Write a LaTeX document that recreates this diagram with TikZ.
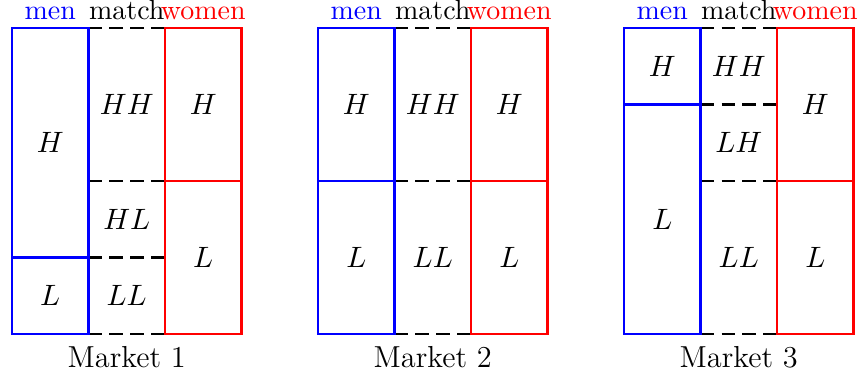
\documentclass[tikz,border=0pt]{standalone}
\begin{document}
\begin{tikzpicture}[
  every node/.style={font=\fontsize{11.3}{13}\selectfont},
  menline/.style={draw=blue, line width=0.8pt},
  womenline/.style={draw=red, line width=0.8pt},
  matchline/.style={draw=black, line width=0.8pt, dash pattern=on 4.9pt off 2.9pt},
  head/.style={anchor=base, inner sep=0pt, font=\fontsize{10.4}{12}\selectfont},
  cell/.style={inner sep=0pt},
  caption/.style={anchor=base, inner sep=0pt}
]
\useasboundingbox (-0.157,-0.614) rectangle (11.137,4.366);

% one market per offset; \s is the height of the men's L block
\foreach \m/\x/\s in {1/0/1, 2/4/2, 3/8/3} {
  \begin{scope}[xshift=\x cm]
    % matched pairs column (dashed borders)
    \draw[matchline] (1,4) -- (2,4);
    \draw[matchline] (1,0) -- (2,0);
    \draw[matchline] (1,2) -- (2,2);
    \ifnum\m=1 \draw[matchline] (1,1) -- (2,1); \fi
    \ifnum\m=3 \draw[matchline] (1,3) -- (2,3); \fi
    % men column
    \draw[menline] (0,0) rectangle (1,4);
    \draw[menline] (0,\s) -- (1,\s);
    % women column
    \draw[womenline] (2,0) rectangle (3,4);
    \draw[womenline] (2,2) -- (3,2);
    % headings and caption
    \node[head, text=blue] (men\m) at (0.5,4.105) {men};
    \node[head] (match\m) at (1.5,4.105) {match};
    \node[head, text=red] (women\m) at (2.5,4.105) {women};
    \node[caption] (cap\m) at (1.5,-0.444) {Market \m};
    % women types
    \node[cell] (wH\m) at (2.5,3) {$H$};
    \node[cell] (wL\m) at (2.5,1) {$L$};
  \end{scope}
}

% Market 1 cells
\node[cell] (mH1) at (0.5,2.5) {$H$};
\node[cell] (mL1) at (0.5,0.5) {$L$};
\node[cell] (HH1) at (1.5,3) {$HH$};
\node[cell] (HL1) at (1.5,1.5) {$HL$};
\node[cell] (LL1) at (1.5,0.5) {$LL$};

% Market 2 cells
\node[cell] (mH2) at (4.5,3) {$H$};
\node[cell] (mL2) at (4.5,1) {$L$};
\node[cell] (HH2) at (5.5,3) {$HH$};
\node[cell] (LL2) at (5.5,1) {$LL$};

% Market 3 cells
\node[cell] (mH3) at (8.5,3.5) {$H$};
\node[cell] (mL3) at (8.5,1.5) {$L$};
\node[cell] (HH3) at (9.5,3.5) {$HH$};
\node[cell] (LH3) at (9.5,2.5) {$LH$};
\node[cell] (LL3) at (9.5,1) {$LL$};
\end{tikzpicture}
\end{document}
